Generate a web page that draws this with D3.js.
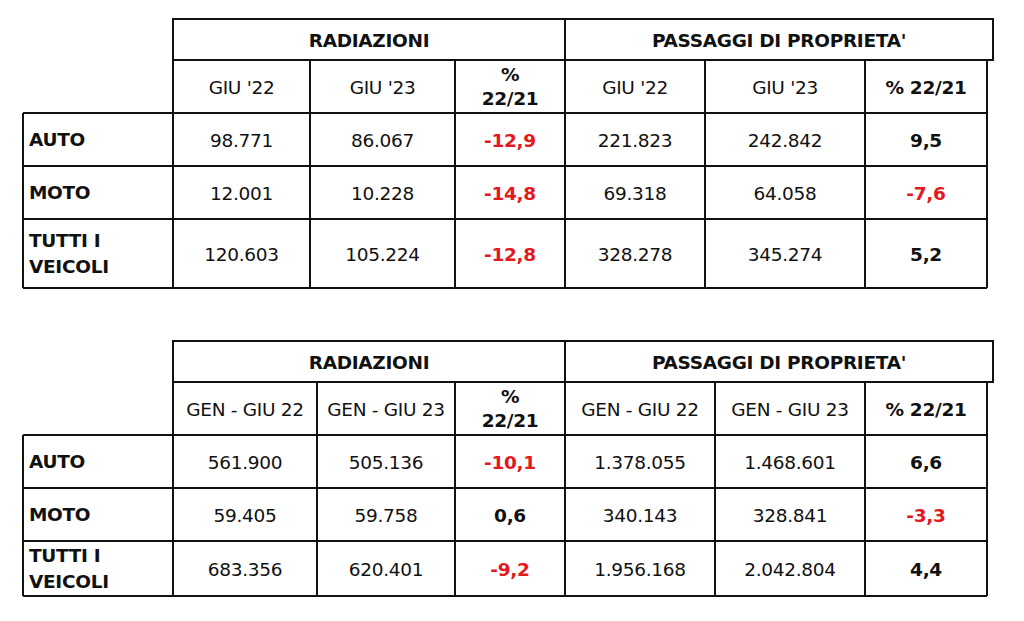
<!DOCTYPE html>
<html><head><meta charset="utf-8">
<script src="https://cdn.jsdelivr.net/npm/d3@7"></script>
<style>body{margin:0;background:#fff}text{font-family:"DejaVu Sans",Verdana,sans-serif}</style>
</head><body><svg id="c" width="1024" height="621"></svg>
<script>
const rowLabels = [["AUTO"],["MOTO"],["TUTTI I","VEICOLI"]];
const groupTitles = ["RADIAZIONI","PASSAGGI DI PROPRIETA'"];
const colLabels1 = ["GIU '22","GIU '23","%|22/21","GIU '22","GIU '23","% 22/21"];
const colLabels2 = ["GEN - GIU 22","GEN - GIU 23","%|22/21","GEN - GIU 22","GEN - GIU 23","% 22/21"];
const values1 = [
  ["98.771","86.067","-12,9","221.823","242.842","9,5"],
  ["12.001","10.228","-14,8","69.318","64.058","-7,6"],
  ["120.603","105.224","-12,8","328.278","345.274","5,2"]];
const values2 = [
  ["561.900","505.136","-10,1","1.378.055","1.468.601","6,6"],
  ["59.405","59.758","0,6","340.143","328.841","-3,3"],
  ["683.356","620.401","-9,2","1.956.168","2.042.804","4,4"]];

const svg = d3.select("#c");
const RED = "#e3191e";
function drawTable(top, colX, colLabels, values){
  const g = svg.append("g");
  const y = d3.scaleOrdinal().domain(["h1","h2","r0","r1","r2","end"])
    .range([top, top+41, top+94, top+147, top+200, top+(values===values1?269:255)]);
  const x = d3.scaleOrdinal().domain(d3.range(8)).range(colX);
  const line = (x1,y1,x2,y2)=>g.append("line").attr("x1",x1).attr("y1",y1).attr("x2",x2).attr("y2",y2)
    .attr("stroke","#111").attr("stroke-width",2);
  const txt = (cx,cy,s,bold,color,anchor)=>g.append("text").attr("x",cx).attr("y",cy)
    .attr("text-anchor",anchor||"middle").attr("dominant-baseline","central")
    .attr("font-size",18.5).attr("font-weight",bold?"bold":"normal").attr("fill",color||"#111")
    .attr("letter-spacing",-0.3).text(s);
  const hr = x(7)+6;
  [[x(1),x(4)],[x(4),hr]].forEach(([a,b],i)=>{
    g.append("rect").attr("x",a).attr("y",y("h1")).attr("width",b-a).attr("height",y("h2")-y("h1"))
      .attr("fill","none").attr("stroke","#111").attr("stroke-width",2);
    txt((a+b)/2,(y("h1")+y("h2"))/2+1,groupTitles[i],true);
  });
  line(x(1),y("h2"),x(1),y("end"));
  line(x(7),y("h2"),x(7),y("end"));
  for(let c=2;c<7;c++) line(x(c),y("h2"),x(c),y("end"));
  line(x(0),y("r0"),x(0),y("end"));
  line(x(0),y("r0"),x(1),y("r0"));
  ["r0","r1","r2","end"].forEach(k=>line(x(1),y(k),x(7),y(k)));
  ["r1","r2","end"].forEach(k=>line(x(0),y(k),x(1),y(k)));
  colLabels.forEach((l,i)=>{
    const cx=(x(i+1)+x(i+2))/2, cy=(y("h2")+y("r0"))/2;
    const parts=l.split("|"); const bold=l.startsWith("%");
    if(parts.length===2){txt(cx,cy-12,parts[0],true);txt(cx,cy+12,parts[1],true);}
    else txt(cx,cy+1,l,bold);
  });
  const rk=["r0","r1","r2"], nk=["r1","r2","end"];
  rowLabels.forEach((lab,r)=>{
    const cy=(y(rk[r])+y(nk[r]))/2;
    if(lab.length===1) txt(x(0)+6,cy,lab[0],true,null,"start");
    else {txt(x(0)+6,cy-13,lab[0],true,null,"start");txt(x(0)+6,cy+13,lab[1],true,null,"start");}
    values[r].forEach((v,c)=>{
      const cx=(x(c+1)+x(c+2))/2;
      const pct = c===2||c===5;
      txt(cx,cy+1,v,pct,pct&&v.startsWith("-")?RED:null);
    });
  });
}
drawTable(19,[23,173,310,455,565,705,865,987],colLabels1,values1);
drawTable(341,[23,173,317,455,565,715,865,987],colLabels2,values2);
</script></body></html>
